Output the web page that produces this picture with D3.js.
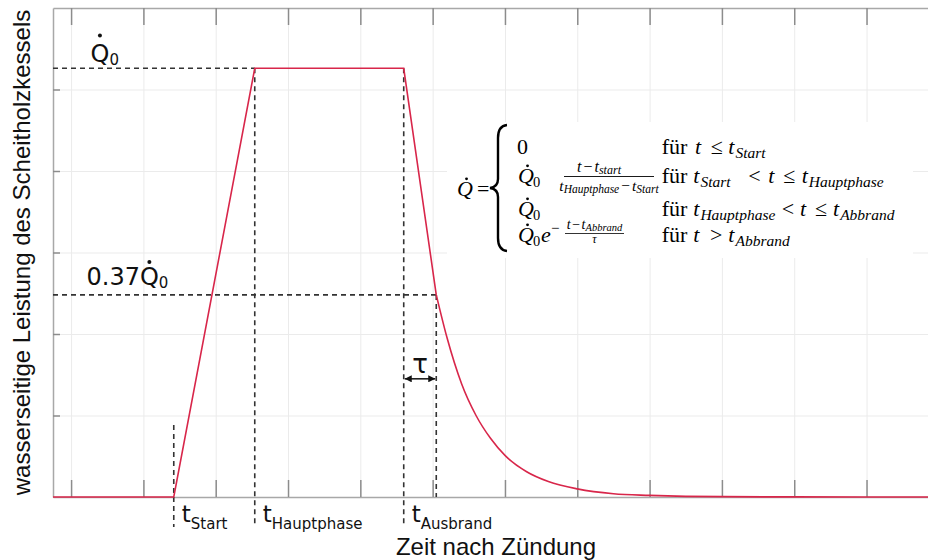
<!DOCTYPE html>
<html>
<head>
<meta charset="utf-8">
<script src="https://cdn.jsdelivr.net/npm/d3@7"></script>
<style>
  html, body { margin: 0; padding: 0; background: #fff; }
  svg { display: block; }
</style>
</head>
<body>
<svg id="chart" width="928" height="560"></svg>
<script>
// Stützstellen des Leistungsverlaufs (Zeit in Achseneinheiten, Leistung in Achseneinheiten)
const zeit     = [-0.25, 1.42, 2.54, 4.60, 5.05, 5.20, 5.40, 5.60, 5.80, 6.00, 6.30, 6.60, 7.00, 7.50, 8.00, 8.50, 9.00, 10.00, 11.85];
const leistung = [0, 0, 5.26, 5.26, 2.48, 1.95, 1.39, 1.00, 0.72, 0.51, 0.31, 0.19, 0.10, 0.04, 0.02, 0.008, 0.004, 0.001, 0];

// Phasengrenzen und Kennwerte
const phasenNamen = ["Start", "Hauptphase", "Ausbrand"];
const phasenZeit  = [1.42, 2.54, 4.60];
const tauEnde = 5.05;      // Zeitpunkt nach einer Zeitkonstante
const q0 = 5.26;           // Nennleistung Q̇0
const qTau = 2.48;         // Leistungsniveau nach einer Zeitkonstante
const tauPfeilHoehe = 1.45;

// Achsenteilung (ohne Beschriftung)
const xTicks = [0, 1, 2, 3, 4, 5, 6, 7, 8, 9, 10, 11];
const yTicks = [1, 2, 3, 4, 5];

const mLeft = 53, mRight = 928, mTop = 8, mBottom = 497;

const svg = d3.select("#chart");
const x = d3.scaleLinear().domain([-0.25, 11.85]).range([mLeft, mRight]);
const y = d3.scaleLinear().domain([0, 6]).range([mBottom, mTop]);

const sans = "'DejaVu Sans', sans-serif";
const arial = "'Liberation Sans', Arial, sans-serif";
const serif = "'Liberation Serif', 'Times New Roman', serif";

// Gitternetz
const grid = svg.append("g");
grid.append("g")
  .attr("transform", `translate(0,${mBottom})`)
  .call(d3.axisBottom(x).tickValues(xTicks).tickSize(-(mBottom - mTop)).tickFormat(""))
  .call(g => g.select(".domain").remove())
  .call(g => g.selectAll("line").attr("stroke", "#ebebeb").attr("stroke-width", 1));
grid.append("g")
  .attr("transform", `translate(${mLeft},0)`)
  .call(d3.axisLeft(y).tickValues(yTicks).tickSize(-(mRight - mLeft)).tickFormat(""))
  .call(g => g.select(".domain").remove())
  .call(g => g.selectAll("line").attr("stroke", "#ebebeb").attr("stroke-width", 1));

// Hinterlegung der Formel
svg.append("rect").attr("x", 447).attr("y", 122).attr("width", 466).attr("height", 136).attr("fill", "#fff");

// Achsen
function styleAxis(g) {
  g.select(".domain").attr("stroke", "#a8a8a8").attr("stroke-width", 1.5);
  g.selectAll(".tick line").attr("stroke", "#8c8c8c").attr("stroke-width", 1.5);
}
svg.append("g").attr("transform", `translate(0,${mBottom})`)
  .call(d3.axisTop(x).tickValues(xTicks).tickSize(17).tickSizeOuter(0).tickFormat(""))
  .call(styleAxis);
svg.append("g").attr("transform", `translate(0,${mTop})`)
  .call(d3.axisBottom(x).tickValues(xTicks).tickSize(17).tickSizeOuter(0).tickFormat(""))
  .call(styleAxis);
svg.append("g").attr("transform", `translate(${mLeft},0)`)
  .call(d3.axisRight(y).tickValues(yTicks).tickSize(7).tickSizeOuter(0).tickFormat(""))
  .call(styleAxis);

// Hilfslinien (gestrichelt)
const dash = svg.append("g").attr("stroke", "#333").attr("stroke-width", 1.6).attr("stroke-dasharray", "5,4").attr("fill", "none");
dash.append("line").attr("x1", x(-0.25)).attr("x2", x(phasenZeit[1])).attr("y1", y(q0)).attr("y2", y(q0));
dash.append("line").attr("x1", x(-0.25)).attr("x2", x(tauEnde)).attr("y1", y(qTau)).attr("y2", y(qTau));
dash.append("line").attr("x1", x(phasenZeit[0])).attr("x2", x(phasenZeit[0])).attr("y1", y(0) - 72).attr("y2", y(0) + 30);
dash.append("line").attr("x1", x(phasenZeit[1])).attr("x2", x(phasenZeit[1])).attr("y1", y(q0)).attr("y2", y(0) + 28);
dash.append("line").attr("x1", x(phasenZeit[2])).attr("x2", x(phasenZeit[2])).attr("y1", y(q0)).attr("y2", y(0) + 28);
dash.append("line").attr("x1", x(tauEnde)).attr("x2", x(tauEnde)).attr("y1", y(qTau)).attr("y2", y(0));

// Leistungsverlauf
const punkte = zeit.map((t, i) => [t, leistung[i]]);
const kurve = svg.append("g").attr("fill", "none").attr("stroke", "#d8264a").attr("stroke-width", 1.6);
kurve.append("path")
  .attr("d", d3.line().x(d => x(d[0])).y(d => y(d[1]))(punkte.slice(0, 5)));
kurve.append("path")
  .attr("d", d3.line().x(d => x(d[0])).y(d => y(d[1])).curve(d3.curveMonotoneX)(punkte.slice(4)));

// Zeitkonstante tau
const defs = svg.append("defs");
defs.append("marker").attr("id", "pfeil").attr("viewBox", "0 0 10 10").attr("refX", 10).attr("refY", 5)
  .attr("markerWidth", 8).attr("markerHeight", 7).attr("markerUnits", "userSpaceOnUse").attr("orient", "auto-start-reverse")
  .append("path").attr("d", "M0,0 L10,5 L0,10 z").attr("fill", "#111");
svg.append("line")
  .attr("x1", x(phasenZeit[2]) + 1).attr("x2", x(tauEnde) - 1)
  .attr("y1", y(tauPfeilHoehe)).attr("y2", y(tauPfeilHoehe))
  .attr("stroke", "#111").attr("stroke-width", 1.5)
  .attr("marker-start", "url(#pfeil)").attr("marker-end", "url(#pfeil)");
svg.append("text")
  .attr("x", (x(phasenZeit[2]) + x(tauEnde)) / 2).attr("y", y(tauPfeilHoehe) - 6)
  .attr("text-anchor", "middle").attr("font-family", sans).attr("font-size", 26).attr("fill", "#111")
  .text("τ");

// Punkt über Q (Zeitableitung)
function punktUeber(textSel, charIndex, dy, r) {
  const box = textSel.node().getExtentOfChar(charIndex);
  svg.append("circle").attr("cx", box.x + box.width / 2).attr("cy", +textSel.attr("y") - dy)
    .attr("r", r).attr("fill", "#111");
}

// Beschriftung der Leistungsniveaus
const lblQ0 = svg.append("text").attr("x", 90.5).attr("y", 62).attr("font-family", sans).attr("font-size", 24).attr("fill", "#111");
lblQ0.append("tspan").text("Q");
lblQ0.append("tspan").attr("font-size", 15).attr("dy", 3).text("0");
punktUeber(lblQ0, 0, 26.5, 2);

const lblQt = svg.append("text").attr("x", 86.5).attr("y", 285).attr("font-family", sans).attr("font-size", 24).attr("fill", "#111");
lblQt.append("tspan").text("0.37Q");
lblQt.append("tspan").attr("font-size", 15).attr("dy", 3).text("0");
punktUeber(lblQt, 4, 23, 2);

// Beschriftung der Phasengrenzen
phasenNamen.forEach((name, i) => {
  const t = svg.append("text").attr("x", x(phasenZeit[i]) + 8).attr("y", 522)
    .attr("font-family", sans).attr("font-size", 23).attr("fill", "#111");
  t.append("tspan").text("t");
  t.append("tspan").attr("font-size", 15).attr("dy", 7).text(name);
});

// Achsentitel
svg.append("text").attr("x", 496).attr("y", 555).attr("text-anchor", "middle")
  .attr("font-family", arial).attr("font-size", 24).attr("fill", "#111").text("Zeit nach Zündung");
svg.append("text").attr("transform", "translate(29.5,252.5) rotate(-90)").attr("text-anchor", "middle")
  .attr("font-family", arial).attr("font-size", 24).attr("fill", "#111").text("wasserseitige Leistung des Scheitholzkessels");

// Formel des Modells
const FS = 22;   // Grundgröße der Formel
const fm = svg.append("g").attr("fill", "#000").attr("font-family", serif);
function teil(xp, yp, s, size, it) {
  return fm.append("text").attr("x", xp).attr("y", yp).attr("font-size", size)
    .attr("font-style", it ? "italic" : "normal").text(s);
}
function reihe(yp, stuecke) {
  let cx = 0;
  stuecke.forEach(([xp, s, art]) => {
    if (art === "s") {
      const n = teil(cx + 1, yp + 4, s, 15.5, true);
      cx = cx + 1 + n.node().getComputedTextLength();
    } else {
      const n = teil(xp, yp, s, FS, art === "i");
      cx = xp + n.node().getComputedTextLength();
    }
  });
}
function punkt(n, yp, size) {
  const b = n.node().getExtentOfChar(0);
  fm.append("circle").attr("cx", b.x + b.width * 0.6).attr("cy", yp - size * 0.78).attr("r", size * 0.065);
}
function qPunkt(xp, yp, size) {
  const n = teil(xp, yp, "Q", size, true);
  punkt(n, yp, size);
  return n;
}
function qNull(xp, yp) {
  const n = fm.append("text").attr("x", xp).attr("y", yp).attr("font-size", FS);
  n.append("tspan").attr("font-style", "italic").text("Q");
  n.append("tspan").attr("font-size", 14.5).attr("dx", -1).attr("dy", 3.5).text("0");
  punkt(n, yp, FS);
}

// linke Seite und Klammer
qPunkt(457, 196, FS);
teil(477, 196, "=", FS, false);
fm.append("path")
  .attr("d", "M507,125 Q498,126 498,138 L498,179 Q498,187 490,188 Q498,189 498,197 L498,238 Q498,250 507,251")
  .attr("fill", "none").attr("stroke", "#000").attr("stroke-width", 2.4);

// erste Spalte
teil(517, 154, "0", FS, false);
qNull(518, 183);
const zaehler = fm.append("text").attr("x", 599).attr("y", 171.5).attr("text-anchor", "middle").attr("font-size", 16);
zaehler.append("tspan").attr("font-style", "italic").text("t");
zaehler.append("tspan").attr("dx", 2).text("−");
zaehler.append("tspan").attr("dx", 2).attr("font-style", "italic").text("t");
zaehler.append("tspan").attr("dy", 2).attr("font-size", 12).attr("font-style", "italic").text("start");
fm.append("line").attr("x1", 564).attr("x2", 654).attr("y1", 176.5).attr("y2", 176.5).attr("stroke", "#000").attr("stroke-width", 0.9);
const nenner = fm.append("text").attr("x", 609).attr("y", 190.5).attr("text-anchor", "middle").attr("font-size", 15.5);
nenner.append("tspan").attr("font-style", "italic").text("t");
nenner.append("tspan").attr("dy", 2).attr("font-size", 11.5).attr("font-style", "italic").text("Hauptphase");
nenner.append("tspan").attr("dy", -2).attr("dx", 2).text("−");
nenner.append("tspan").attr("dx", 2).attr("font-style", "italic").text("t");
nenner.append("tspan").attr("dy", 2).attr("font-size", 11.5).attr("font-style", "italic").text("Start");
qNull(518, 216);
qNull(518, 242);
teil(541, 242, "e", FS, true);
teil(551, 233, "−", 15, false);
const expZ = fm.append("text").attr("x", 594.5).attr("y", 229).attr("text-anchor", "middle").attr("font-size", 14);
expZ.append("tspan").attr("font-style", "italic").text("t");
expZ.append("tspan").attr("dx", 1.5).text("−");
expZ.append("tspan").attr("dx", 1.5).attr("font-style", "italic").text("t");
expZ.append("tspan").attr("dy", 1.5).attr("font-size", 10.5).attr("font-style", "italic").text("Abbrand");
fm.append("line").attr("x1", 565).attr("x2", 624).attr("y1", 233.5).attr("y2", 233.5).attr("stroke", "#000").attr("stroke-width", 0.8);
teil(594.5, 243, "τ", 12, true).attr("text-anchor", "middle");

// zweite Spalte
reihe(154, [[661.7, "für", "r"], [695, "t", "i"], [710.7, "≤", "r"], [728.3, "t", "i"], [null, "Start", "s"]]);
reihe(183, [[661.7, "für", "r"], [693.3, "t", "i"], [null, "Start", "s"], [748.3, "<", "r"], [768.3, "t", "i"], [783.3, "≤", "r"], [801.7, "t", "i"], [null, "Hauptphase", "s"]]);
reihe(216, [[661.7, "für", "r"], [693.3, "t", "i"], [null, "Hauptphase", "s"], [781.7, "<", "r"], [800, "t", "i"], [815, "≤", "r"], [833, "t", "i"], [null, "Abbrand", "s"]]);
reihe(242, [[661.7, "für", "r"], [693.3, "t", "i"], [710, ">", "r"], [728.3, "t", "i"], [null, "Abbrand", "s"]]);
</script>
</body>
</html>
